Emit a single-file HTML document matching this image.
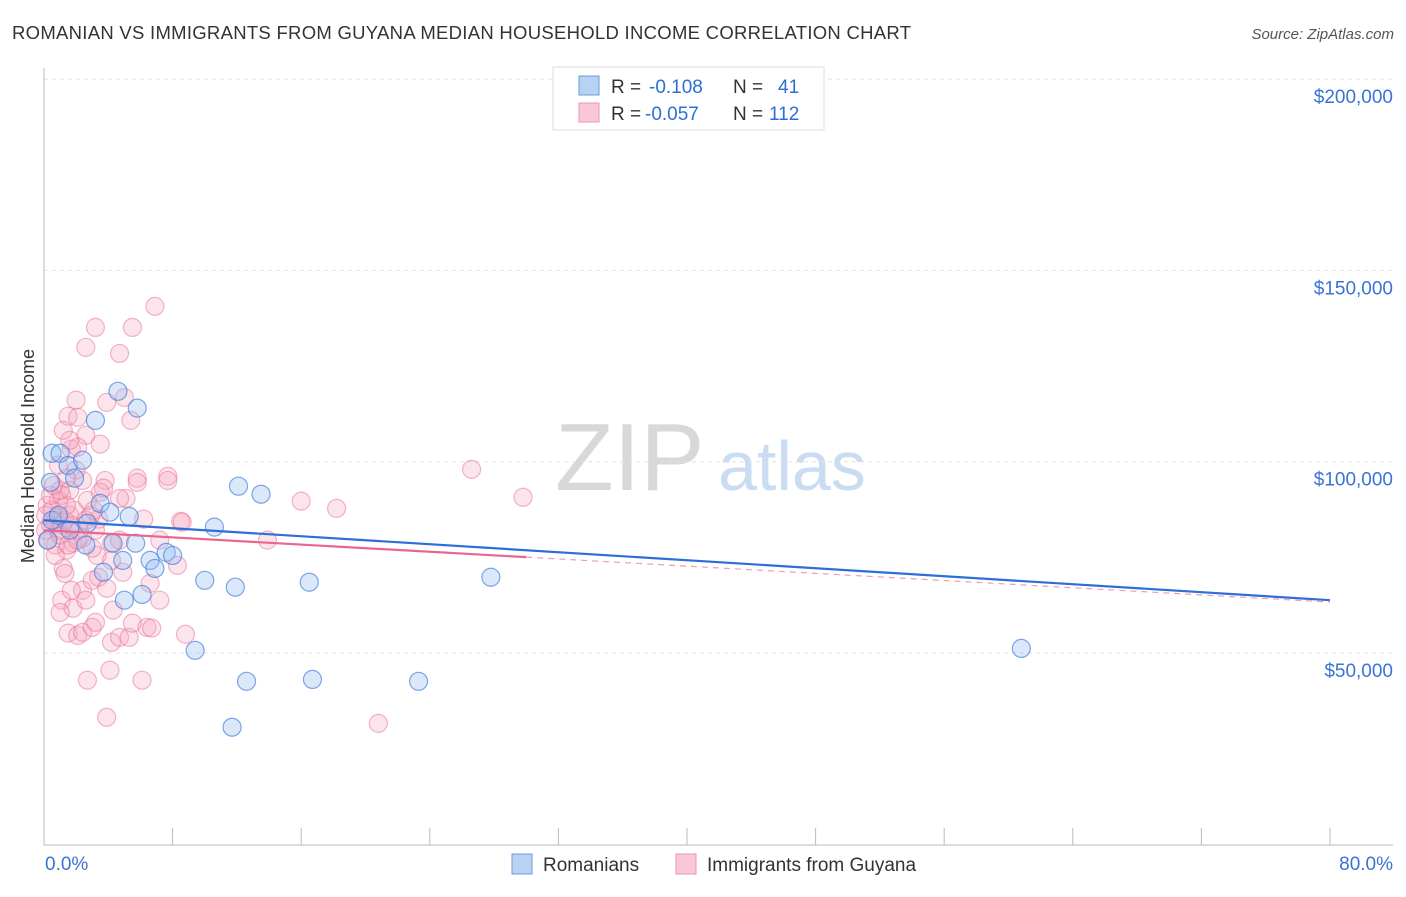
<!DOCTYPE html>
<html><head><meta charset="utf-8"><style>
body{margin:0;background:#fff;font-family:"Liberation Sans",sans-serif;}
svg text{font-family:"Liberation Sans",sans-serif;}
</style></head><body>
<svg id="c" width="1406" height="892">
<text x="12" y="39" font-size="18.5" fill="#333" textLength="899">ROMANIAN VS IMMIGRANTS FROM GUYANA MEDIAN HOUSEHOLD INCOME CORRELATION CHART</text>
<text x="1394" y="39" font-size="15" fill="#555" font-style="italic" text-anchor="end">Source: ZipAtlas.com</text>
<text x="34" y="456" font-size="18" fill="#333" transform="rotate(-90 34 456)" text-anchor="middle">Median Household Income</text>
<g><text x="555" y="490" font-size="96" fill="#d8d8d8" font-family="Liberation Serif,serif">ZIP</text><text x="718" y="490" font-size="70" fill="#c9dcf2">atlas</text></g>
<g id="grid"></g><g id="marks"></g>
<g>
<rect x="553" y="67" width="271" height="63" fill="#fff" stroke="#ddd"/>
<rect x="579" y="76" width="20" height="19" fill="#b8d2f4" stroke="#6a9be0"/>
<rect x="579" y="103" width="20" height="19" fill="#f9c8d6" stroke="#ee93ae"/>
<text x="611" y="93" font-size="19" fill="#333">R =</text>
<text x="649" y="93" font-size="19" fill="#2d6fd6">-0.108</text>
<text x="733" y="93" font-size="19" fill="#333">N =</text>
<text x="778" y="93" font-size="19" fill="#2d6fd6">41</text>
<text x="611" y="120" font-size="19" fill="#333">R =</text>
<text x="645" y="120" font-size="19" fill="#2d6fd6">-0.057</text>
<text x="733" y="120" font-size="19" fill="#333">N =</text>
<text x="769" y="120" font-size="19" fill="#2d6fd6">112</text>
</g>
<g>
<rect x="512" y="854" width="20" height="20" fill="#b8d2f4" stroke="#6a9be0"/>
<text x="543" y="871" font-size="19" fill="#333">Romanians</text>
<rect x="676" y="854" width="20" height="20" fill="#f9c8d6" stroke="#ee93ae"/>
<text x="707" y="871" font-size="19" fill="#333">Immigrants from Guyana</text>
</g>
</svg>
<script>
const yTicks=[50000,100000,150000,200000];
const yTickLabels=["$50,000","$100,000","$150,000","$200,000"];
const xTicks=[0,8,16,24,32,40,48,56,64,72,80];
const blueX=[0.5,1.0,1.5,2.4,1.9,3.2,4.6,5.8,0.4,2.7,3.5,4.1,5.3,4.3,5.7,6.6,4.9,3.7,6.9,7.6,8.0,5.0,6.1,10.0,11.9,16.5,10.6,12.1,13.5,9.4,12.6,16.7,23.3,11.7,27.8,60.8,0.5,0.25,0.9,1.6,2.6];
const blueY=[102.2,102.2,99,100.4,95.7,110.8,118.4,114,94.6,83.9,89.1,86.8,85.7,78.7,78.7,74.2,74.2,71.1,72.1,76.3,75.5,63.8,65.3,69,67.2,68.5,82.9,93.6,91.5,50.7,42.6,43.1,42.6,30.6,69.8,51.2,84.7,79.5,86,82.1,78.2];
const pinkX=[6.9,3.2,5.5,2.6,4.7,2.0,3.9,5.0,1.5,2.1,5.4,2.6,3.5,1.7,2.1,5.8,7.7,3.8,5.1,5.8,7.7,6.2,8.5,8.6,3.4,2.4,1.8,1.4,3.3,4.2,4.9,1.2,1.3,8.3,7.2,2.4,3.0,3.4,3.9,6.6,1.1,1.8,4.3,7.2,1.5,2.1,2.4,3.0,3.2,4.2,4.7,5.3,5.5,6.4,6.7,8.8,2.7,4.1,6.1,3.9,20.8,26.6,29.8,16.0,18.2,13.9,
0.2,0.5,0.7,0.4,0.1,0.9,1.1,0.2,0.7,1.0,1.3,1.6,1.9,0.9,1.1,0.4,1.4,1.7,2.2,2.6,2.9,3.2,0.7,1.5,2.1,3.0,1.0,0.6,1.6,2.4,2.0,1.4,2.7,3.1,3.5,3.7,4.7,4.2,4.7,1.7,1.0,1.6,1.2,0.9,2.6,0.1];
const pinkY=[140.6,135.1,135.1,129.9,128.3,116.1,115.5,116.8,111.9,111.6,110.8,106.9,104.6,103.3,103.8,95.7,96.2,95.1,90.4,94.6,95.1,85.0,84.4,84.2,85.0,80.0,78.7,76.9,75.5,78.7,71.1,72.1,70.8,72.9,79.5,66.4,69.0,69.8,66.9,68.2,63.8,61.7,61.2,63.8,55.2,54.6,55.4,56.7,58.0,52.8,54.1,54.1,57.8,56.7,56.5,54.9,42.9,45.5,42.9,33.2,31.6,98.0,90.7,89.7,87.8,79.5,
88.6,87.3,84.7,83.4,82.1,82.1,83.4,79.5,78.2,80.8,84.7,86.0,87.3,89.9,91.2,91.2,88.6,83.4,82.1,84.7,86.0,82.1,75.5,78.2,79.5,77.4,92.5,93.8,92.5,95.1,97.8,95.7,89.9,87.3,92.0,93.1,90.4,74.2,79.5,66.4,60.6,105.6,108.2,99.1,63.8,86.0];
const blueTrend=[84.7,63.8];
const pinkTrend=[82.1,63.3];
const pinkSolidEnd=30;
const X=v=>44+v/80*1286;
const Y=v=>653-(v-50000)/50000*191.3;
const NS="http://www.w3.org/2000/svg";
function mk(t,a,p){const e=document.createElementNS(NS,t);for(const k in a)e.setAttribute(k,a[k]);p.appendChild(e);return e;}
const grid=document.getElementById('grid'),marks=document.getElementById('marks');
yTicks.forEach((v,i)=>{
 const l=mk('line',{x1:44,x2:1393,y1:Y(v),y2:Y(v),stroke:'#e2e2e2','stroke-dasharray':'4,4'},grid);
 
 
 const t=mk('text',{x:1393,y:Y(v)+24,'text-anchor':'end','font-size':19,fill:'#3a73d6'},grid);t.textContent=yTickLabels[i];
 
 
});
mk('line',{x1:44,x2:44,y1:68,y2:845,stroke:'#bbb'},grid);
mk('line',{x1:44,x2:1393,y1:845,y2:845,stroke:'#bbb'},grid);
xTicks.forEach(v=>{const l=mk('line',{x1:X(v),x2:X(v),y1:828,y2:845,stroke:'#bbb'},grid);
 
 });
let t=mk('text',{x:45,y:870,'font-size':19,fill:'#3a73d6'},grid);t.textContent='0.0%';


t=mk('text',{x:1393,y:870,'font-size':19,fill:'#3a73d6','text-anchor':'end'},grid);t.textContent='80.0%';


pinkX.forEach((x,i)=>{const c=mk('circle',{cx:X(x),cy:Y(pinkY[i]*1000),r:9,fill:'rgba(246,165,190,0.3)',stroke:'rgba(232,110,150,0.5)','stroke-width':1.2},marks);
 
 });
blueX.forEach((x,i)=>{const c=mk('circle',{cx:X(x),cy:Y(blueY[i]*1000),r:9,fill:'rgba(150,190,240,0.35)',stroke:'rgba(60,120,220,0.65)','stroke-width':1.2},marks);
 
 });
const pv=x=>pinkTrend[0]+(pinkTrend[1]-pinkTrend[0])*x/80;
let l=mk('line',{x1:X(pinkSolidEnd),y1:Y(pv(pinkSolidEnd)*1000),x2:X(80),y2:Y(pinkTrend[1]*1000),stroke:'#e9a0b6','stroke-width':1.2,'stroke-dasharray':'6,5'},marks);


l=mk('line',{x1:X(0),y1:Y(blueTrend[0]*1000),x2:X(80),y2:Y(blueTrend[1]*1000),stroke:'#2d6fd6','stroke-width':2.2},marks);


l=mk('line',{x1:X(0),y1:Y(pinkTrend[0]*1000),x2:X(pinkSolidEnd),y2:Y(pv(pinkSolidEnd)*1000),stroke:'#e8668f','stroke-width':2.2},marks);


</script>
</body></html>
